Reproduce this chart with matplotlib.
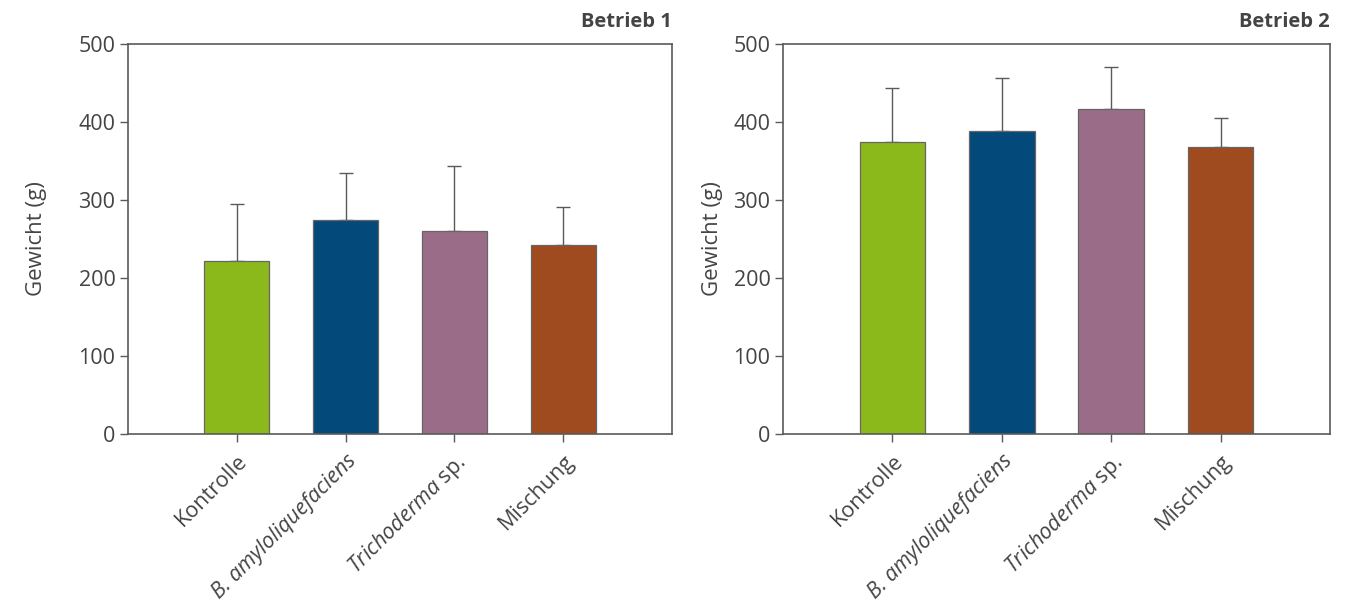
import matplotlib
matplotlib.use("Agg")
import matplotlib.pyplot as plt
import numpy as np

categories = ["Kontrolle", "B. amyloliquefaciens", "Trichoderma sp.", "Mischung"]
tick_labels = ["Kontrolle", "B. amyloliquefaciens", r"$\mathit{Trichoderma}$ sp.", "Mischung"]
colors = ["#8BB81A", "#03497A", "#9A6C87", "#A04A1F"]

betrieb1_mean = [222, 274, 260, 242]
betrieb1_err = [73, 61, 83, 49]
betrieb2_mean = [375, 389, 417, 368]
betrieb2_err = [69, 68, 54, 37]

titles = ["Betrieb 1", "Betrieb 2"]
yticks = [0, 100, 200, 300, 400, 500]

plt.rcParams["font.family"] = ["Open Sans", "DejaVu Sans"]
plt.rcParams["mathtext.fontset"] = "custom"
plt.rcParams["mathtext.it"] = "Open Sans:italic"
plt.rcParams["mathtext.rm"] = "Open Sans"

txt = "#444444"
line = "#5a5a5a"

fig = plt.figure(figsize=(13.57, 6.07), dpi=100)
W, H = 1357, 607
axes_px = [(128, 672), (783, 1330)]
label_x_px = [47, 723]
top_px, bot_px = 44, 434

for i, (means, errs) in enumerate([(betrieb1_mean, betrieb1_err), (betrieb2_mean, betrieb2_err)]):
    x0, x1 = axes_px[i]
    ax = fig.add_axes([x0 / W, (H - bot_px) / H, (x1 - x0) / W, (bot_px - top_px) / H])
    x = np.arange(len(categories))
    ax.bar(x, means, width=0.6, color=colors, edgecolor="#666666", linewidth=0.9, zorder=2)
    ax.errorbar(x, means, yerr=[np.zeros(len(errs)), errs], fmt="none",
                ecolor=line, elinewidth=1.0, capsize=5, capthick=1.0, zorder=1)
    ax.set_xlim(-1, 4)
    ax.set_ylim(0, 500)
    ax.set_yticks(yticks)
    ax.set_xticks(x)
    ax.set_xticklabels(tick_labels, rotation=45, ha="right", va="top",
                       rotation_mode="anchor", fontsize=15.5, color=txt)
    ax.get_xticklabels()[1].set_fontstyle("italic")
    ax.tick_params(axis="y", labelsize=15.5, colors=line, labelcolor=txt, length=6, width=1.0, pad=3)
    ax.tick_params(axis="x", colors=line, labelcolor=txt, length=6, width=1.0, pad=6)
    for s in ax.spines.values():
        s.set_color(line)
        s.set_linewidth(1.2)
    ax.set_ylabel("Gewicht (g)", fontsize=16, color=txt)
    ax.yaxis.set_label_coords((label_x_px[i] - x0) / (x1 - x0), 0.5)
    ax.set_title(titles[i], loc="right", fontsize=14.5, fontweight="bold", color=txt, pad=12)

fig.savefig("out.png", dpi=100)
